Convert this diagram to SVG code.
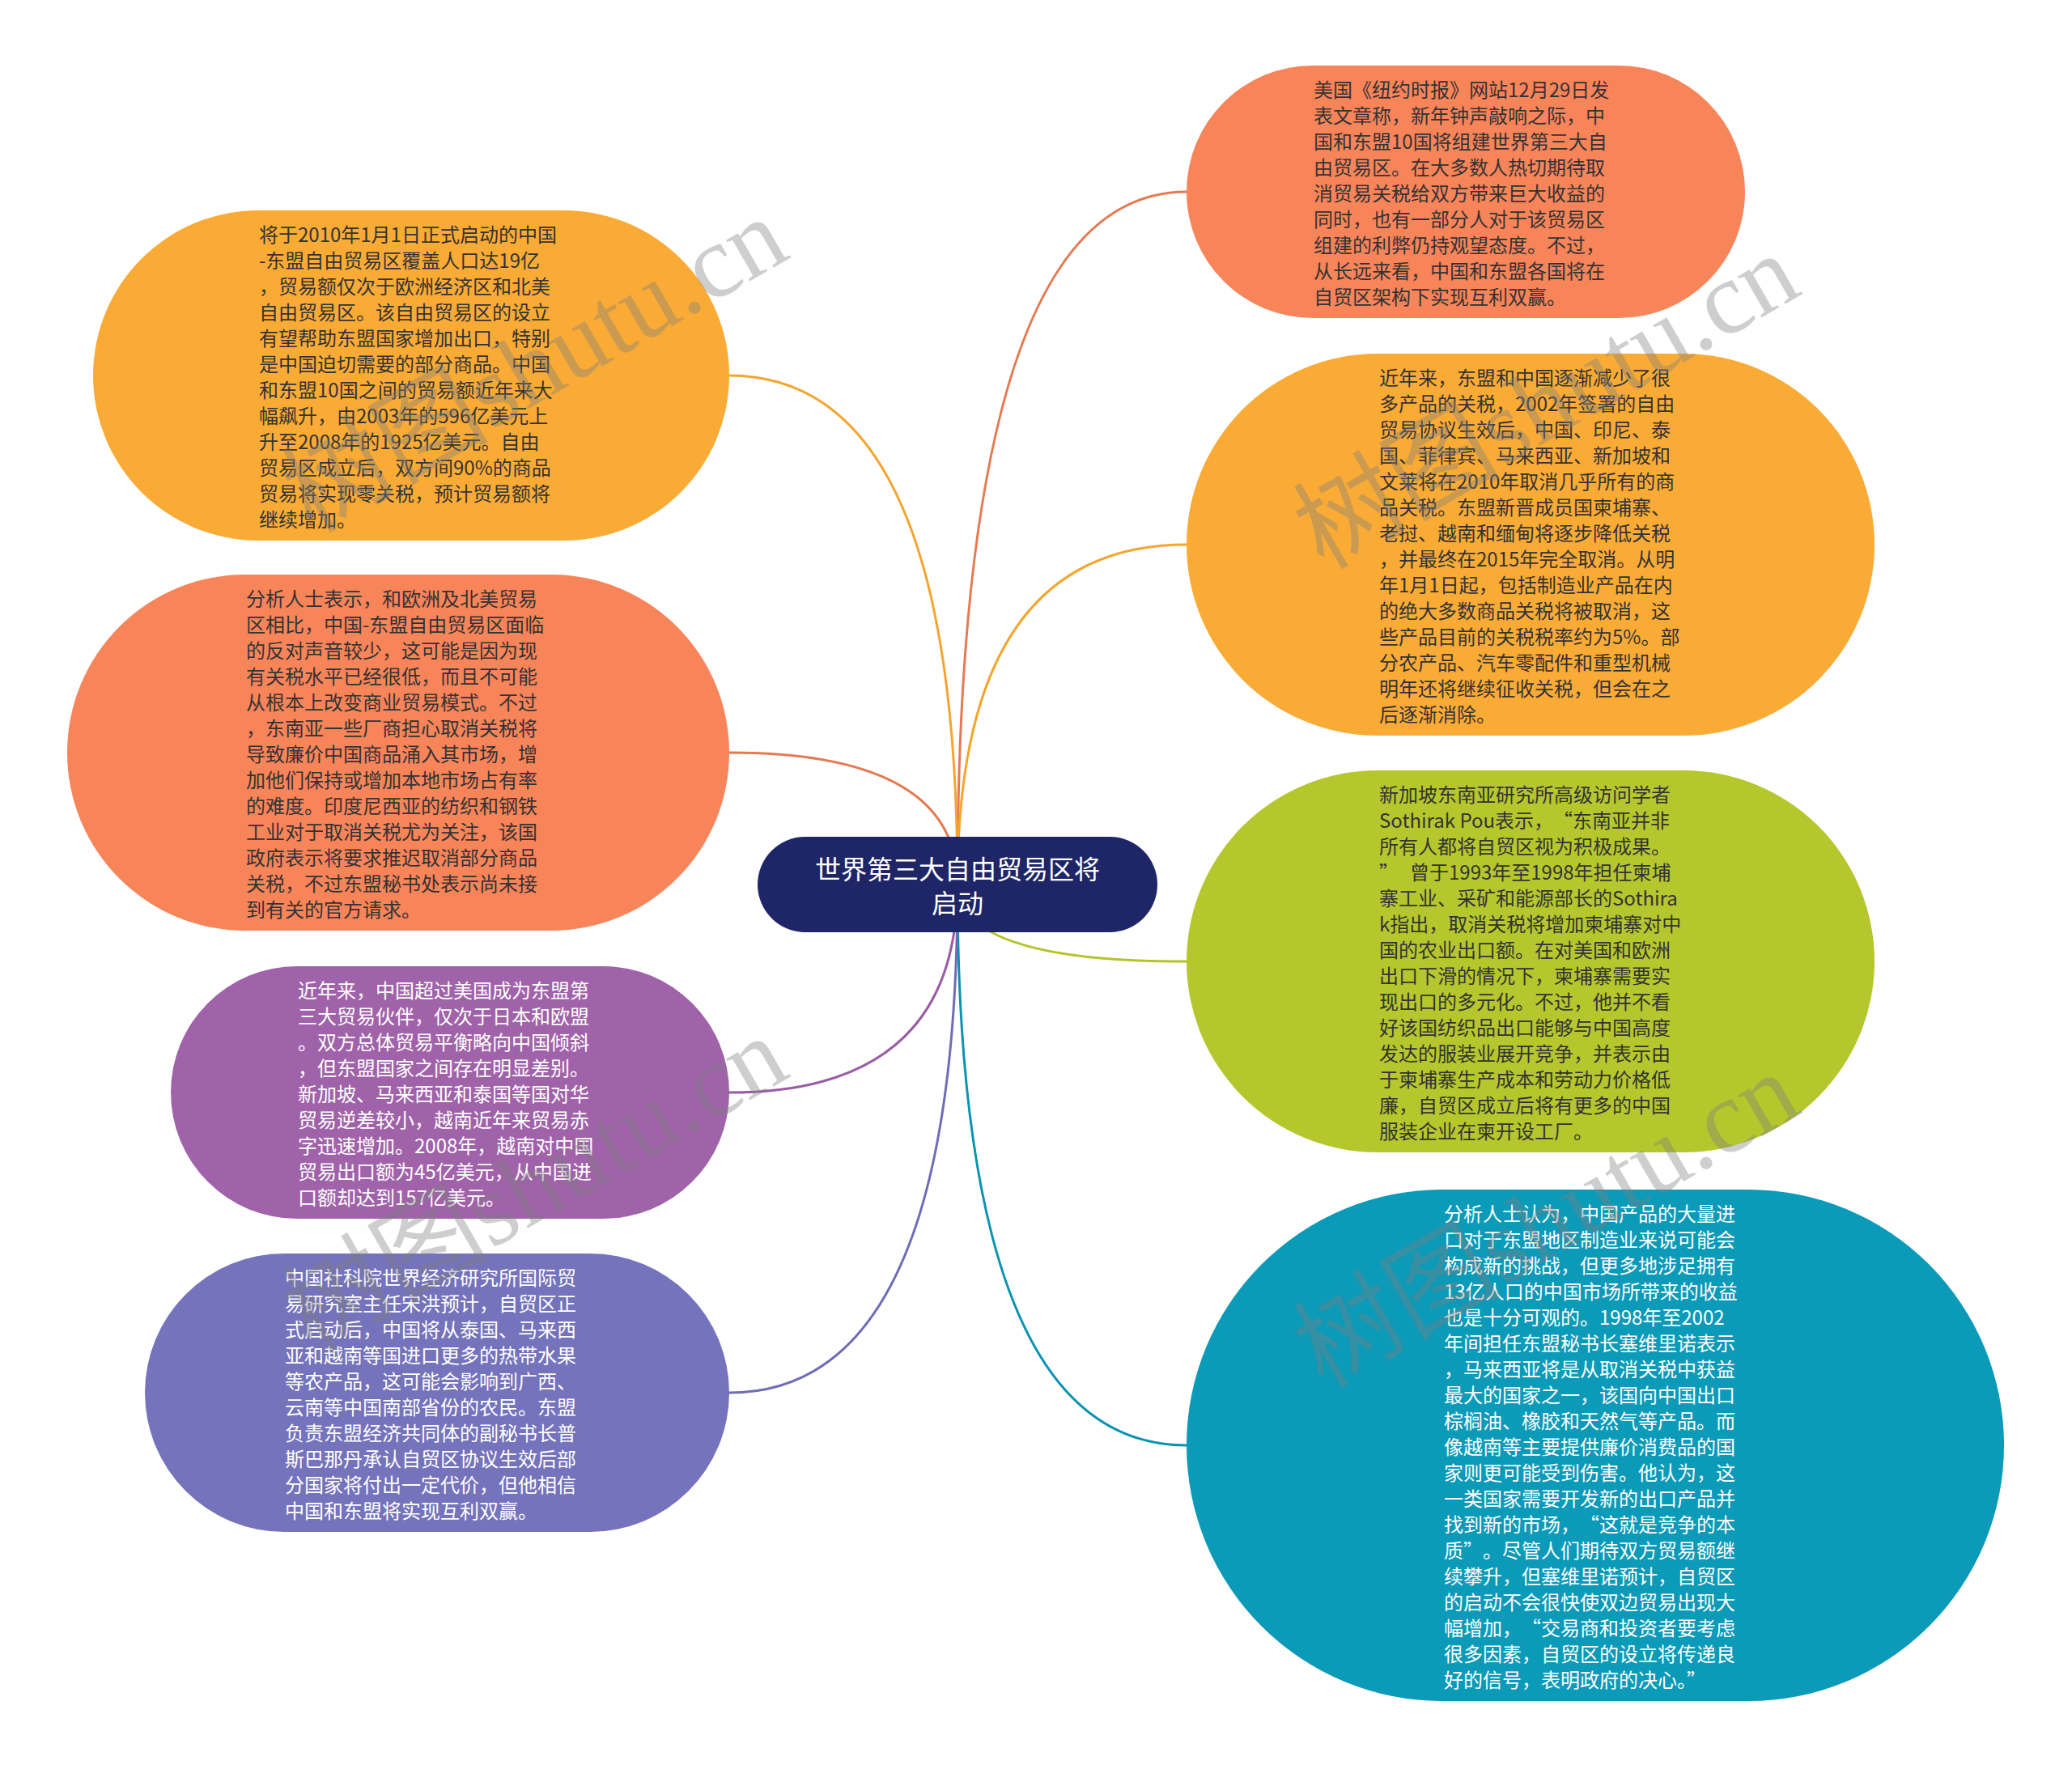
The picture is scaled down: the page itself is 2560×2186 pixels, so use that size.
<svg xmlns="http://www.w3.org/2000/svg" width="2560" height="2186" viewBox="0 0 2560 2186">
<style>
.t { font-family: "Noto Sans CJK SC", "Noto Sans", sans-serif; font-size: 24px; dominant-baseline: central; }
.dark { fill: #333333; }
.light { fill: #ffffff; }
.ctext { font-family: "Noto Sans CJK SC", "Noto Sans", sans-serif; font-size: 32px; fill: #ffffff; text-anchor: middle; dominant-baseline: central; }
.edge { fill: none; stroke-width: 3; stroke-linecap: round; }
.wm { font-family: "Liberation Serif", "Noto Sans CJK SC", serif; font-size: 128px; fill: #7f7f7f; fill-opacity: 0.38; }
</style>
<rect x="0" y="0" width="2560" height="2186" fill="#ffffff"/>
<g id="connectors">
<path class="edge" stroke="#E57A52" d="M1183 1093 Q1183 237 1466 237"/>
<path class="edge" stroke="#F5A52E" d="M1183 1093 Q1183 673 1466 673"/>
<path class="edge" stroke="#B3C42A" d="M1183 1093 Q1183 1188 1466 1188"/>
<path class="edge" stroke="#0A93B0" d="M1183 1093 Q1183 1786 1466 1786"/>
<path class="edge" stroke="#F5A52E" d="M1183 1093 Q1183 464 901 464"/>
<path class="edge" stroke="#E57A52" d="M1183 1093 Q1183 930 901 930"/>
<path class="edge" stroke="#9A5CA6" d="M1183 1093 Q1183 1350 901 1350"/>
<path class="edge" stroke="#6E6CB6" d="M1183 1093 Q1183 1721 901 1721"/>
</g>
<g id="node-tr">
<rect x="1466" y="81" width="690" height="312" rx="156" fill="#F8845A"/>
<text class="t dark" x="1623" y="109"><tspan x="1623">美国《纽约时报》网站12月29日发</tspan><tspan x="1623" dy="32">表文章称，新年钟声敲响之际，中</tspan><tspan x="1623" dy="32">国和东盟10国将组建世界第三大自</tspan><tspan x="1623" dy="32">由贸易区。在大多数人热切期待取</tspan><tspan x="1623" dy="32">消贸易关税给双方带来巨大收益的</tspan><tspan x="1623" dy="32">同时，也有一部分人对于该贸易区</tspan><tspan x="1623" dy="32">组建的利弊仍持观望态度。不过，</tspan><tspan x="1623" dy="32">从长远来看，中国和东盟各国将在</tspan><tspan x="1623" dy="32">自贸区架构下实现互利双赢。</tspan></text>
</g>
<g id="node-r2">
<rect x="1466" y="437" width="850" height="472" rx="236" fill="#FAAB36"/>
<text class="t dark" x="1704" y="465"><tspan x="1704">近年来，东盟和中国逐渐减少了很</tspan><tspan x="1704" dy="32">多产品的关税，2002年签署的自由</tspan><tspan x="1704" dy="32">贸易协议生效后，中国、印尼、泰</tspan><tspan x="1704" dy="32">国、菲律宾、马来西亚、新加坡和</tspan><tspan x="1704" dy="32">文莱将在2010年取消几乎所有的商</tspan><tspan x="1704" dy="32">品关税。东盟新晋成员国柬埔寨、</tspan><tspan x="1704" dy="32">老挝、越南和缅甸将逐步降低关税</tspan><tspan x="1704" dy="32">，并最终在2015年完全取消。从明</tspan><tspan x="1704" dy="32">年1月1日起，包括制造业产品在内</tspan><tspan x="1704" dy="32">的绝大多数商品关税将被取消，这</tspan><tspan x="1704" dy="32">些产品目前的关税税率约为5%。部</tspan><tspan x="1704" dy="32">分农产品、汽车零配件和重型机械</tspan><tspan x="1704" dy="32">明年还将继续征收关税，但会在之</tspan><tspan x="1704" dy="32">后逐渐消除。</tspan></text>
</g>
<g id="node-r3">
<rect x="1466" y="952" width="850" height="472" rx="236" fill="#B5C72C"/>
<text class="t dark" x="1704" y="980"><tspan x="1704">新加坡东南亚研究所高级访问学者</tspan><tspan x="1704" dy="32">Sothirak Pou表示，</tspan><tspan dx="12">“东南亚并非</tspan><tspan x="1704" dy="32">所有人都将自贸区视为积极成果。</tspan><tspan x="1704" dy="32">”</tspan><tspan dx="14">曾于1993年至1998年担任柬埔</tspan><tspan x="1704" dy="32">寨工业、采矿和能源部长的Sothira</tspan><tspan x="1704" dy="32">k指出，取消关税将增加柬埔寨对中</tspan><tspan x="1704" dy="32">国的农业出口额。在对美国和欧洲</tspan><tspan x="1704" dy="32">出口下滑的情况下，柬埔寨需要实</tspan><tspan x="1704" dy="32">现出口的多元化。不过，他并不看</tspan><tspan x="1704" dy="32">好该国纺织品出口能够与中国高度</tspan><tspan x="1704" dy="32">发达的服装业展开竞争，并表示由</tspan><tspan x="1704" dy="32">于柬埔寨生产成本和劳动力价格低</tspan><tspan x="1704" dy="32">廉，自贸区成立后将有更多的中国</tspan><tspan x="1704" dy="32">服装企业在柬开设工厂。</tspan></text>
</g>
<g id="node-r4">
<rect x="1466" y="1470" width="1010" height="632" rx="316" fill="#0B9AB8"/>
<text class="t light" x="1784" y="1498"><tspan x="1784">分析人士认为，中国产品的大量进</tspan><tspan x="1784" dy="32">口对于东盟地区制造业来说可能会</tspan><tspan x="1784" dy="32">构成新的挑战，但更多地涉足拥有</tspan><tspan x="1784" dy="32">13亿人口的中国市场所带来的收益</tspan><tspan x="1784" dy="32">也是十分可观的。1998年至2002</tspan><tspan x="1784" dy="32">年间担任东盟秘书长塞维里诺表示</tspan><tspan x="1784" dy="32">，马来西亚将是从取消关税中获益</tspan><tspan x="1784" dy="32">最大的国家之一，该国向中国出口</tspan><tspan x="1784" dy="32">棕榈油、橡胶和天然气等产品。而</tspan><tspan x="1784" dy="32">像越南等主要提供廉价消费品的国</tspan><tspan x="1784" dy="32">家则更可能受到伤害。他认为，这</tspan><tspan x="1784" dy="32">一类国家需要开发新的出口产品并</tspan><tspan x="1784" dy="32">找到新的市场，</tspan><tspan dx="12">“这就是竞争的本</tspan><tspan x="1784" dy="32">质”</tspan><tspan dx="12">。尽管人们期待双方贸易额继</tspan><tspan x="1784" dy="32">续攀升，但塞维里诺预计，自贸区</tspan><tspan x="1784" dy="32">的启动不会很快使双边贸易出现大</tspan><tspan x="1784" dy="32">幅增加，</tspan><tspan dx="12">“交易商和投资者要考虑</tspan><tspan x="1784" dy="32">很多因素，自贸区的设立将传递良</tspan><tspan x="1784" dy="32">好的信号，表明政府的决心。”</tspan></text>
</g>
<g id="node-l1">
<rect x="115" y="260" width="786" height="408" rx="204" fill="#FAAB36"/>
<text class="t dark" x="320" y="288"><tspan x="320">将于2010年1月1日正式启动的中国</tspan><tspan x="320" dy="32">-东盟自由贸易区覆盖人口达19亿</tspan><tspan x="320" dy="32">，贸易额仅次于欧洲经济区和北美</tspan><tspan x="320" dy="32">自由贸易区。该自由贸易区的设立</tspan><tspan x="320" dy="32">有望帮助东盟国家增加出口，特别</tspan><tspan x="320" dy="32">是中国迫切需要的部分商品。中国</tspan><tspan x="320" dy="32">和东盟10国之间的贸易额近年来大</tspan><tspan x="320" dy="32">幅飙升，由2003年的596亿美元上</tspan><tspan x="320" dy="32">升至2008年的1925亿美元。自由</tspan><tspan x="320" dy="32">贸易区成立后，双方间90%的商品</tspan><tspan x="320" dy="32">贸易将实现零关税，预计贸易额将</tspan><tspan x="320" dy="32">继续增加。</tspan></text>
</g>
<g id="node-l2">
<rect x="83" y="710" width="818" height="440" rx="220" fill="#F8845A"/>
<text class="t dark" x="304" y="738"><tspan x="304">分析人士表示，和欧洲及北美贸易</tspan><tspan x="304" dy="32">区相比，中国-东盟自由贸易区面临</tspan><tspan x="304" dy="32">的反对声音较少，这可能是因为现</tspan><tspan x="304" dy="32">有关税水平已经很低，而且不可能</tspan><tspan x="304" dy="32">从根本上改变商业贸易模式。不过</tspan><tspan x="304" dy="32">，东南亚一些厂商担心取消关税将</tspan><tspan x="304" dy="32">导致廉价中国商品涌入其市场，增</tspan><tspan x="304" dy="32">加他们保持或增加本地市场占有率</tspan><tspan x="304" dy="32">的难度。印度尼西亚的纺织和钢铁</tspan><tspan x="304" dy="32">工业对于取消关税尤为关注，该国</tspan><tspan x="304" dy="32">政府表示将要求推迟取消部分商品</tspan><tspan x="304" dy="32">关税，不过东盟秘书处表示尚未接</tspan><tspan x="304" dy="32">到有关的官方请求。</tspan></text>
</g>
<g id="node-l3">
<rect x="211" y="1194" width="690" height="312" rx="156" fill="#A063AA"/>
<text class="t light" x="368" y="1222"><tspan x="368">近年来，中国超过美国成为东盟第</tspan><tspan x="368" dy="32">三大贸易伙伴，仅次于日本和欧盟</tspan><tspan x="368" dy="32">。双方总体贸易平衡略向中国倾斜</tspan><tspan x="368" dy="32">，但东盟国家之间存在明显差别。</tspan><tspan x="368" dy="32">新加坡、马来西亚和泰国等国对华</tspan><tspan x="368" dy="32">贸易逆差较小，越南近年来贸易赤</tspan><tspan x="368" dy="32">字迅速增加。2008年，越南对中国</tspan><tspan x="368" dy="32">贸易出口额为45亿美元，从中国进</tspan><tspan x="368" dy="32">口额却达到157亿美元。</tspan></text>
</g>
<g id="node-l4">
<rect x="179" y="1549" width="722" height="344" rx="172" fill="#7573BB"/>
<text class="t light" x="352" y="1577"><tspan x="352">中国社科院世界经济研究所国际贸</tspan><tspan x="352" dy="32">易研究室主任宋洪预计，自贸区正</tspan><tspan x="352" dy="32">式启动后，中国将从泰国、马来西</tspan><tspan x="352" dy="32">亚和越南等国进口更多的热带水果</tspan><tspan x="352" dy="32">等农产品，这可能会影响到广西、</tspan><tspan x="352" dy="32">云南等中国南部省份的农民。东盟</tspan><tspan x="352" dy="32">负责东盟经济共同体的副秘书长普</tspan><tspan x="352" dy="32">斯巴那丹承认自贸区协议生效后部</tspan><tspan x="352" dy="32">分国家将付出一定代价，但他相信</tspan><tspan x="352" dy="32">中国和东盟将实现互利双赢。</tspan></text>
</g>
<g id="node-root">
<rect x="936" y="1034" width="494" height="118" rx="59" fill="#1F2667"/>
<text class="ctext" x="1183" y="1072"><tspan x="1183">世界第三大自由贸易区将</tspan><tspan x="1183" dy="42">启动</tspan></text>
</g>
<g id="watermarks">
<text class="wm" x="385" y="660" transform="rotate(-30 385 660)">树图shutu.cn</text>
<text class="wm" x="1635" y="705" transform="rotate(-30 1635 705)">树图shutu.cn</text>
<text class="wm" x="385" y="1672" transform="rotate(-30 385 1672)">树图shutu.cn</text>
<text class="wm" x="1635" y="1717" transform="rotate(-30 1635 1717)">树图shutu.cn</text>
</g>
</svg>
